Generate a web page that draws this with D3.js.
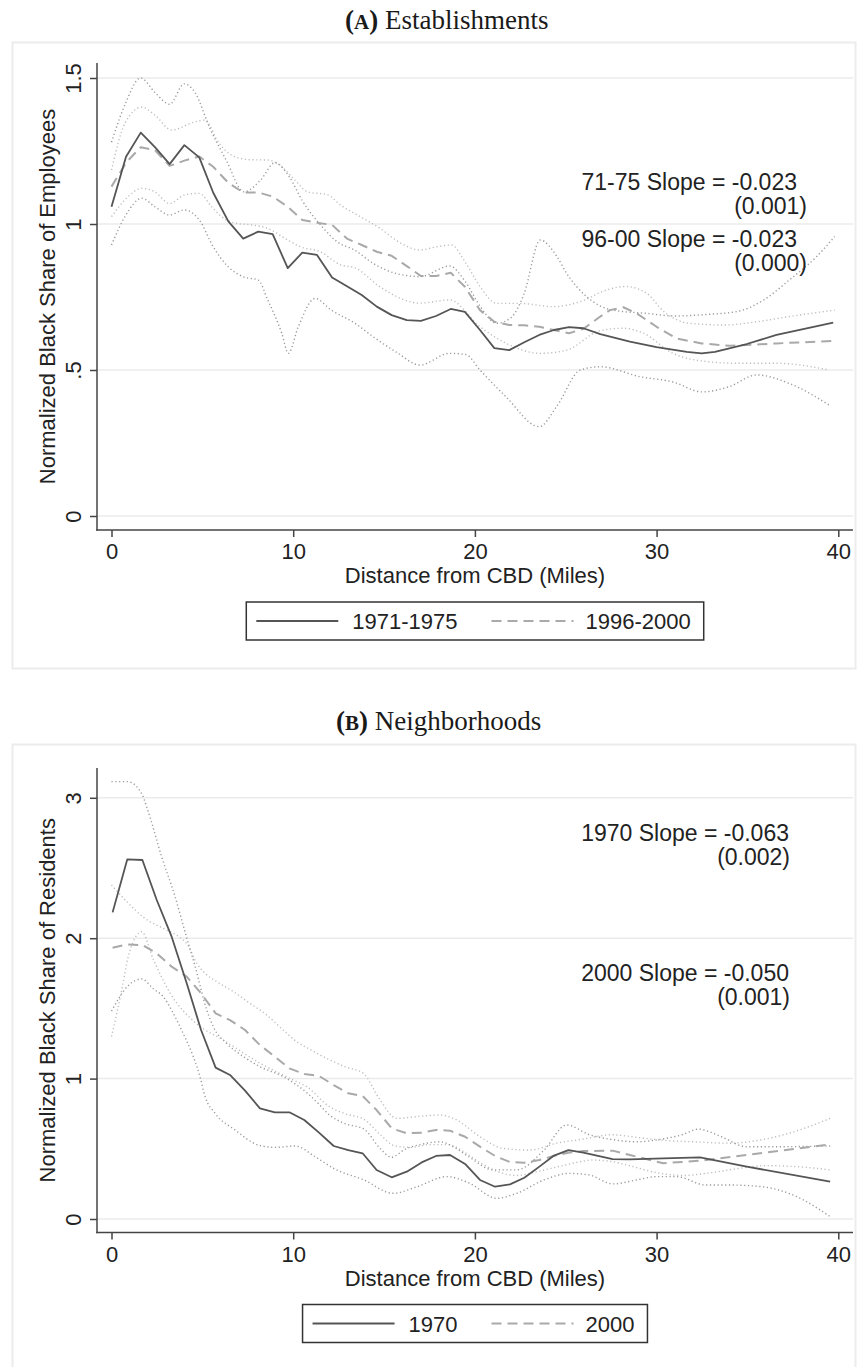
<!DOCTYPE html>
<html><head><meta charset="utf-8">
<script src="https://cdn.jsdelivr.net/npm/d3@7"></script>
<style>
body{margin:0;background:#fff}
svg{display:block}
</style>
</head><body>
<svg id="c" width="865" height="1367"></svg>
<script>
// ---------------- DATA ----------------
const xTicks = [0, 10, 20, 30, 40];

// Panel A: Establishments
const estYTicks = [0, 0.5, 1, 1.5];
const estYLabels = ["0", ".5", "1", "1.5"];
const estSeriesNames = ["1971-1975", "1996-2000"];
const estNotes = ["71-75 Slope = -0.023", "(0.001)", "96-00 Slope = -0.023", "(0.000)"];

const estDist71 = [0.0,0.8,1.61,2.39,3.2,4.01,4.83,5.6,6.43,7.25,8.08,8.87,9.7,10.5,11.31,12.14,12.96,13.77,14.6,15.42,16.25,17.03,17.86,18.67,19.45,20.28,21.07,21.89,22.72,23.54,24.35,25.18,25.97,26.9,28.53,30.0,31.66,32.48,33.21,34.96,36.6,39.72];
const estShare71 = [1.059,1.23,1.313,1.263,1.205,1.27,1.228,1.107,1.009,0.95,0.974,0.965,0.849,0.902,0.894,0.817,0.787,0.757,0.717,0.688,0.671,0.668,0.685,0.709,0.699,0.637,0.575,0.568,0.595,0.62,0.637,0.647,0.643,0.623,0.597,0.578,0.562,0.557,0.562,0.589,0.62,0.662];

const estDist96 = [0.0,0.8,1.61,2.39,3.2,4.01,4.83,5.6,6.43,7.25,8.08,8.87,9.7,10.5,11.31,12.14,12.96,13.77,14.6,15.42,16.25,17.03,17.86,18.67,19.45,20.28,21.07,21.89,22.72,23.54,24.35,25.18,25.97,26.9,27.43,28.17,28.9,30.0,31.1,32.48,34.04,36.6,39.82];
const estShare96 = [1.128,1.21,1.263,1.253,1.199,1.217,1.231,1.196,1.141,1.108,1.108,1.094,1.059,1.014,1.004,0.997,0.95,0.928,0.905,0.891,0.856,0.822,0.822,0.833,0.785,0.705,0.665,0.654,0.653,0.648,0.637,0.626,0.641,0.683,0.705,0.715,0.694,0.648,0.608,0.591,0.583,0.591,0.6];

const estCi71HiDist = [0,0.75,1.6,2.4,3.2,4.0,4.6,5.4,6.3,7.3,8.2,9.0,9.8,10.5,11.6,12.4,13.4,14.4,15.7,17.0,18.6,19.5,20.3,21.2,22.0,22.7,23.6,24.5,25.05,26.15,27.6,29.45,31.0,32.7,34.4,35.9,37.3,38.8,39.8];
const estCi71Hi = [1.28,1.41,1.50,1.45,1.41,1.48,1.45,1.33,1.22,1.11,1.15,1.21,1.16,1.08,0.99,0.94,0.91,0.865,0.83,0.82,0.856,0.80,0.717,0.66,0.68,0.76,0.945,0.89,0.831,0.751,0.705,0.694,0.685,0.69,0.70,0.74,0.808,0.888,0.957];
const estCi71LoDist = [0,0.74,1.66,2.39,3.2,4.0,4.83,5.6,6.43,7.26,8.08,8.6,9.37,9.73,10.28,11.2,12.1,13.4,14.4,15.7,16.97,18.6,19.5,20.28,21.7,23.54,24.5,25.8,26.9,29.1,30.9,32.5,34.0,35.5,37.3,39.5];
const estCi71Lo = [0.928,1.025,1.088,1.059,1.031,1.048,1.014,0.922,0.853,0.819,0.808,0.74,0.626,0.557,0.648,0.745,0.705,0.66,0.614,0.56,0.517,0.557,0.553,0.5,0.409,0.306,0.375,0.5,0.511,0.477,0.459,0.425,0.443,0.483,0.454,0.38];
const estCi96HiDist = [0,0.74,1.66,2.39,3.31,4.6,5.15,5.88,6.8,7.7,8.6,9.37,10.1,10.8,11.9,12.6,13.7,14.78,15.9,16.98,17.9,18.7,19.5,20.28,21.2,22.48,24.3,25.8,27.24,28.3,29.45,30.4,31.8,33.7,35.5,37.3,39.8];
const estCi96Hi = [1.185,1.345,1.40,1.373,1.322,1.35,1.356,1.28,1.23,1.22,1.219,1.196,1.15,1.11,1.10,1.065,1.025,0.985,0.935,0.911,0.922,0.928,0.866,0.786,0.728,0.728,0.717,0.734,0.774,0.786,0.763,0.70,0.66,0.654,0.665,0.683,0.705];
const estCi96LoDist = [0,0.9,1.66,2.39,3.2,4.04,4.83,5.5,6.06,6.8,7.7,8.6,9.7,10.4,11.5,12.6,13.4,14.77,16.97,18.6,20.28,21.7,23.6,25.05,26.9,28.17,29.27,30.9,32.75,34.6,36.6,39.5];
const estCi96Lo = [1.025,1.093,1.122,1.11,1.07,1.10,1.105,1.06,1.025,1.003,0.997,0.985,0.945,0.922,0.905,0.86,0.85,0.785,0.729,0.74,0.648,0.592,0.557,0.568,0.635,0.643,0.626,0.557,0.529,0.523,0.523,0.5];

// Panel B: Neighborhoods
const resYTicks = [0, 1, 2, 3];
const resYLabels = ["0", "1", "2", "3"];
const resSeriesNames = ["1970", "2000"];
const resNotes = ["1970 Slope = -0.063", "(0.002)", "2000 Slope = -0.050", "(0.001)"];

const resDist = [0.06,0.87,1.70,2.49,3.31,4.14,4.93,5.73,6.52,7.35,8.17,8.99,9.79,10.61,11.42,12.23,13.03,13.82,14.59,15.42,16.25,17.07,17.86,18.63,19.46,20.28,21.11,21.93,22.72,23.55,24.32,25.15,25.97,27.58,28.53,30.37,32.39,34.96,39.55];
const res1970 = [2.184,2.562,2.557,2.272,2.011,1.679,1.346,1.078,1.026,0.914,0.788,0.760,0.760,0.705,0.615,0.520,0.49,0.468,0.349,0.297,0.337,0.403,0.449,0.456,0.392,0.278,0.230,0.247,0.294,0.373,0.449,0.491,0.472,0.427,0.425,0.432,0.439,0.373,0.266];
const res2000 = [1.932,1.956,1.951,1.892,1.797,1.726,1.607,1.465,1.417,1.346,1.239,1.156,1.073,1.033,1.019,0.954,0.895,0.876,0.776,0.646,0.610,0.615,0.634,0.629,0.586,0.515,0.449,0.406,0.401,0.420,0.449,0.472,0.484,0.487,0.456,0.397,0.415,0.456,0.532];

const resCi70HiDist = [0,0.9,1.66,2.0,2.76,3.49,4.1,4.6,5.24,5.6,6.34,7.26,8.17,9.45,10.74,11.4,12.0,12.85,13.9,14.8,15.4,16.2,17.0,18.1,19.0,19.7,21.0,22.3,23.8,25.05,26.3,27.6,28.9,30.1,31.4,32.3,33.5,34.96,36.8,39.55];
const resCi70Hi = [3.115,3.115,3.03,2.91,2.58,2.30,2.02,1.80,1.49,1.37,1.25,1.157,1.085,1.014,0.90,0.82,0.74,0.68,0.64,0.50,0.44,0.50,0.53,0.55,0.50,0.44,0.35,0.35,0.49,0.67,0.60,0.565,0.55,0.565,0.60,0.64,0.59,0.515,0.515,0.52];
const resCi70LoDist = [0,0.9,1.66,2.3,2.85,3.4,3.95,4.5,4.87,5.15,5.7,6.8,8.08,8.99,10.1,11.2,12.3,13.86,15.5,16.8,18.45,19.7,21.2,22.3,23.8,25.2,26.3,27.6,28.9,30.0,31.1,32.7,34.0,35.8,37.7,39.55];
const resCi70Lo = [1.48,1.66,1.71,1.64,1.583,1.465,1.32,1.157,1.014,0.872,0.753,0.634,0.527,0.51,0.52,0.444,0.355,0.28,0.183,0.229,0.302,0.255,0.147,0.183,0.278,0.325,0.313,0.25,0.278,0.302,0.302,0.242,0.242,0.23,0.16,0.017];
const resCi00HiDist = [0,0.92,1.75,3.0,3.6,4.2,4.7,5.15,5.8,6.7,7.62,8.54,9.46,10.19,10.9,11.9,12.85,13.86,14.78,15.69,16.8,18.08,19.0,20.28,21.55,23.03,24.5,26,27.5,29,30.4,32,34,36,38,39.55];
const resCi00Hi = [2.38,2.25,2.15,2.06,2.02,1.95,1.82,1.75,1.69,1.62,1.536,1.453,1.345,1.263,1.21,1.14,1.085,1.037,0.848,0.717,0.729,0.741,0.705,0.586,0.503,0.491,0.54,0.57,0.60,0.58,0.56,0.55,0.54,0.57,0.64,0.717];
const resCi00LoDist = [0,0.6,0.92,1.66,2.3,3.22,4.69,6.15,8.17,10.0,10.74,12.0,12.85,13.9,14.8,15.6,16.5,17.5,18.5,19.5,20.3,21.2,22.3,23.5,24.5,25.5,26.5,27.5,28.5,30,31.5,33,34.5,36,38,39.55];
const resCi00Lo = [1.30,1.655,1.868,2.046,1.85,1.61,1.39,1.275,1.11,0.99,0.943,0.80,0.75,0.71,0.60,0.52,0.51,0.53,0.53,0.47,0.40,0.34,0.31,0.34,0.37,0.40,0.42,0.41,0.38,0.33,0.31,0.33,0.36,0.38,0.37,0.35];

// ---------------- DRAW ----------------
const svg = d3.select("#c");
const SANS = '"Liberation Sans", Arial, Helvetica, sans-serif';
const SERIF = '"Liberation Serif", "Times New Roman", serif';
const zip = (xs, ys) => xs.map((d, i) => [d, ys[i]]);

function drawPanel(o) {
  const g = svg.append("g");
  // outer frame
  g.append("rect").attr("x", 12.5).attr("y", o.frameTop).attr("width", 843).attr("height", o.frameH)
    .attr("fill", "none").attr("stroke", "#ececec").attr("stroke-width", 2);
  // title
  const t = g.append("text").attr("x", o.titleX).attr("y", o.titleY)
    .style("font-family", SERIF).style("font-size", "27px").attr("fill", "#1a1a1a");
  t.append("tspan").attr("font-weight", "bold").text("(");
  t.append("tspan").attr("font-weight", "bold").style("font-size", "21px").text(o.letter);
  t.append("tspan").attr("font-weight", "bold").text(")");
  t.append("tspan").text(" " + o.titleText);

  const L = 97, R = 853;
  const x = d3.scaleLinear().domain([0, 40]).range([111.5, 838.3]);
  const y = d3.scaleLinear().domain([0, o.yMax]).range([o.y0, o.yTopVal]);

  // gridlines
  g.append("g").selectAll("line").data(o.yTicks).join("line")
    .attr("x1", L).attr("x2", R).attr("y1", d => y(d)).attr("y2", d => y(d))
    .attr("stroke", "#ebebeb").attr("stroke-width", 1.5);

  const smooth = d3.line().x(d => x(d[0])).y(d => y(d[1])).curve(d3.curveMonotoneX);
  const straight = d3.line().x(d => x(d[0])).y(d => y(d[1]));

  // confidence bands (dotted)
  o.cis.forEach(c => {
    g.append("path").datum(zip(c.d, c.v)).attr("d", smooth)
      .attr("fill", "none").attr("stroke", c.color).attr("stroke-width", 1.4)
      .attr("stroke-dasharray", "1.2 2.6");
  });
  // dashed series
  g.append("path").datum(zip(o.d2, o.v2)).attr("d", straight)
    .attr("fill", "none").attr("stroke", "#a9a9a9").attr("stroke-width", 2)
    .attr("stroke-dasharray", "10 6").attr("stroke-linejoin", "round");
  // solid series
  g.append("path").datum(zip(o.d1, o.v1)).attr("d", straight)
    .attr("fill", "none").attr("stroke", "#555").attr("stroke-width", 1.8)
    .attr("stroke-linejoin", "round");

  // axes
  const ya = g.append("g").attr("transform", `translate(${L},0)`)
    .call(d3.axisLeft(y).tickValues(o.yTicks).tickFormat((d, i) => o.yLabels[i]).tickSize(7).tickSizeOuter(0));
  ya.select(".domain").remove();
  ya.selectAll(".tick line").attr("stroke", "#444").attr("stroke-width", 1.5);
  ya.selectAll(".tick text").attr("transform", "rotate(-90)").attr("x", 0).attr("y", -16).attr("dy", 0)
    .attr("text-anchor", "middle").style("font-family", SANS).style("font-size", "22px").attr("fill", "#222");

  const xa = g.append("g").attr("transform", `translate(0,${o.plotBottom})`)
    .call(d3.axisBottom(x).tickValues(xTicks).tickFormat(d3.format("d")).tickSize(7).tickSizeOuter(0));
  xa.select(".domain").remove();
  xa.selectAll(".tick line").attr("stroke", "#444").attr("stroke-width", 1.5);
  xa.selectAll(".tick text").attr("y", 29).attr("dy", 0)
    .style("font-family", SANS).style("font-size", "22px").attr("fill", "#222");

  g.append("line").attr("x1", L).attr("x2", L).attr("y1", o.plotTop).attr("y2", o.plotBottom + 0.75)
    .attr("stroke", "#444").attr("stroke-width", 1.5);
  g.append("line").attr("x1", L - 0.75).attr("x2", R).attr("y1", o.plotBottom).attr("y2", o.plotBottom)
    .attr("stroke", "#444").attr("stroke-width", 1.5);

  // axis titles
  g.append("text").attr("transform", `translate(55,${(o.plotTop + o.plotBottom) / 2}) rotate(-90)`)
    .attr("text-anchor", "middle").style("font-family", SANS).style("font-size", "22px").attr("fill", "#222")
    .text(o.yTitle);
  g.append("text").attr("x", 475).attr("y", o.plotBottom + 53).attr("text-anchor", "middle")
    .style("font-family", SANS).style("font-size", "22px").attr("fill", "#222")
    .text("Distance from CBD (Miles)");

  // annotations
  o.notes.forEach((s, i) => {
    g.append("text").attr("x", o.noteX[i]).attr("y", o.noteY[i]).attr("text-anchor", "end")
      .style("font-family", SANS).style("font-size", "23px").attr("fill", "#222").text(s);
  });

  // legend
  const lg = g.append("g");
  const box = lg.append("rect");
  const cy = o.legendY;
  const padL = 10, sample = 82, gap = 14, itemGap = 34, padR = 13;
  const texts = o.names.map(n => lg.append("text").attr("y", cy + 8)
    .style("font-family", SANS).style("font-size", "22px").attr("fill", "#222").text(n));
  const w = texts.map(t => t.node().getComputedTextLength());
  const total = padL + sample + gap + w[0] + itemGap + sample + gap - 2 + w[1] + padR;
  let cx = 475 - total / 2;
  box.attr("x", cx).attr("y", cy - 19).attr("width", total).attr("height", 38)
    .attr("fill", "#fff").attr("stroke", "#333").attr("stroke-width", 1.5);
  let p = cx + padL;
  lg.append("line").attr("x1", p).attr("x2", p + sample).attr("y1", cy).attr("y2", cy)
    .attr("stroke", "#555").attr("stroke-width", 1.8);
  p += sample + gap;
  texts[0].attr("x", p);
  p += w[0] + itemGap;
  lg.append("line").attr("x1", p).attr("x2", p + sample).attr("y1", cy).attr("y2", cy)
    .attr("stroke", "#a9a9a9").attr("stroke-width", 2).attr("stroke-dasharray", "10 6");
  p += sample + gap - 2;
  texts[1].attr("x", p);
}

drawPanel({
  frameTop: 42.5, frameH: 626, titleX: 345, titleY: 29, letter: "A", titleText: "Establishments",
  yMax: 1.5, y0: 516, yTopVal: 78, plotTop: 63, plotBottom: 530,
  yTicks: estYTicks, yLabels: estYLabels, yTitle: "Normalized Black Share of Employees",
  d1: estDist71, v1: estShare71, d2: estDist96, v2: estShare96,
  cis: [
    {d: estCi96HiDist, v: estCi96Hi, color: "#bdbdbd"},
    {d: estCi96LoDist, v: estCi96Lo, color: "#bdbdbd"},
    {d: estCi71HiDist, v: estCi71Hi, color: "#999"},
    {d: estCi71LoDist, v: estCi71Lo, color: "#999"}
  ],
  notes: estNotes, noteX: [797, 807, 797, 807], noteY: [190, 213.5, 247, 270.5],
  names: estSeriesNames, legendY: 621
});

drawPanel({
  frameTop: 744.5, frameH: 626, titleX: 336, titleY: 730, letter: "B", titleText: "Neighborhoods",
  yMax: 3, y0: 1219, yTopVal: 797.8, plotTop: 768, plotBottom: 1232.5,
  yTicks: resYTicks, yLabels: resYLabels, yTitle: "Normalized Black Share of Residents",
  d1: resDist, v1: res1970, d2: resDist, v2: res2000,
  cis: [
    {d: resCi00HiDist, v: resCi00Hi, color: "#bdbdbd"},
    {d: resCi00LoDist, v: resCi00Lo, color: "#bdbdbd"},
    {d: resCi70HiDist, v: resCi70Hi, color: "#999"},
    {d: resCi70LoDist, v: resCi70Lo, color: "#999"}
  ],
  notes: resNotes, noteX: [789, 790, 789, 790], noteY: [841, 864.5, 981, 1004.5],
  names: resSeriesNames, legendY: 1323.5
});
</script>
</body></html>
